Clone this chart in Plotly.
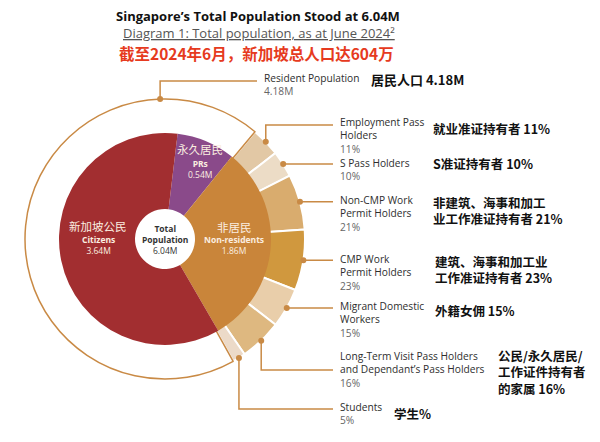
import math
import plotly.graph_objects as go

# ---------------- data ----------------
inner_labels = ["PRs", "Non-residents", "Citizens"]
inner_labels_zh = ["永久居民", "非居民", "新加坡公民"]
inner_values = [0.54, 1.86, 3.64]          # millions
total_population = 6.04
resident_population = 4.18

ring_labels = ["Employment Pass<br>Holders", "S Pass Holders",
               "Non-CMP Work<br>Permit Holders", "CMP Work<br>Permit Holders",
               "Migrant Domestic<br>Workers",
               "Long-Term Visit Pass Holders<br>and Dependant’s Pass Holders",
               "Students"]
ring_labels_zh = ["就业准证持有者 11%", "S准证持有者 10%",
                  "非建筑、海事和加工<br>业工作准证持有者 21%",
                  "建筑、海事和加工业<br>工作准证持有者 23%",
                  "外籍女佣 15%",
                  "公民/永久居民/<br>工作证件持有者<br>的家属 16%",
                  "学生%"]
ring_pct = [11, 10, 21, 23, 15, 16, 5]

# ---------------- style / layout ----------------
W, H = 600, 442
CX, CY = 165, 239
R_IN, R_OUT = 106, 140
HOLE_IN = 30 / R_IN
RING_HOLE = 100 / R_OUT
ROT = 40  # start angle (deg clockwise from 12 o'clock) of the ring
INNER_SHIFT = -1  # small visual rotation offset of inner pie

RED, PURPLE, ORANGE = "#a22e30", "#8a4a8a", "#c9853a"
ring_colors = ["#e2c8a5", "#ecdcc6", "#d9ac6e", "#d0983e", "#e9ceaa", "#deb880", "#ecdac8"]
LINE = "#c98a45"
EN_FONT = "Open Sans"
ZH_FONT = "Noto Sans CJK SC"
LEFT_FIX = -1

def px(x):
    return x / W

def py(y):
    return 1 - y / H

def dom(r):
    return dict(x=[px(CX - r), px(CX + r)], y=[py(CY + r), py(CY - r)])

nonres = inner_values[1]
ring_vals = [p / sum(ring_pct) * nonres for p in ring_pct]
inner_total = sum(inner_values)
inner_rot = ROT + INNER_SHIFT - inner_values[0] / inner_total * 360

fig = go.Figure()

# outer ring: non-resident breakdown + resident outline
fig.add_trace(go.Pie(
    values=ring_vals + [resident_population],
    labels=[l.replace("<br>", " ") for l in ring_labels] + ["Resident Population"],
    sort=False, direction="clockwise", rotation=ROT, hole=RING_HOLE,
    marker=dict(colors=ring_colors + ["rgba(0,0,0,0)"],
                line=dict(color=["white"] * len(ring_vals) + [LINE],
                          width=[2] * len(ring_vals) + [1.5])),
    textinfo="none", hoverinfo="skip", showlegend=False, domain=dom(R_OUT),
))

# inner pie
fig.add_trace(go.Pie(
    values=inner_values, labels=inner_labels,
    sort=False, direction="clockwise", rotation=inner_rot, hole=HOLE_IN,
    marker=dict(colors=[PURPLE, ORANGE, RED], line=dict(width=0)),
    textinfo="none", hoverinfo="skip", showlegend=False, domain=dom(R_IN),
))

annotations = []
shapes = []

def ann(x, y, text, size, color, family=EN_FONT, anchor="center", weight=None):
    if anchor == "left":
        x = x + LEFT_FIX
    font = dict(family=family, size=size, color=color)
    if weight:
        font["weight"] = weight
    annotations.append(dict(x=px(x), y=py(y), xref="paper", yref="paper", text=text,
                            showarrow=False, xanchor=anchor, yanchor="middle", align=anchor,
                            borderpad=0, font=font))

# titles
ann(258, 16, "<b>Singapore’s Total Population Stood at 6.04M</b>", 13, "#111")
ann(259, 33, "<u>Diagram 1: Total population, as at June 2024²</u>", 13, "#555")
ann(256, 52.5, "<b>截至2024年6月，新加坡总人口达604万</b>", 15.5, "#e63a20", ZH_FONT)

# inner labels
inner_pos = [(200, 149, 168.5), (234, 227, 245), (98, 226, 245)]
for lab, zh, v, (x, y_zh, y_en) in zip(inner_labels, inner_labels_zh, inner_values, inner_pos):
    ann(x, y_zh, zh, 11.5, "#fbeee0", ZH_FONT)
    ann(x, y_en, f"<b>{lab}</b><br>{v:.2f}M", 8.5, "#fbeee0")
ann(CX, 240, f"<b>Total</b><br><b>Population</b><br>{total_population:.2f}M", 8.5, "#333")

# callouts for ring segments
LINE_END = 333
TEXT_X = 340
elbow_y = [125, None, None, None, None, 370, 409]
en_y = [135, 170, 213, 272, 319, 369, 413]
zh_y = [128, 163, 210.5, 269, 310, 371.5, 413]
zh_x = [433, 433, 433, 435, 435, 498, 394]

def dot_line(dx, dy, ly, end):
    shapes.append(dict(type="circle", xref="paper", yref="paper",
                       x0=px(dx - 3), x1=px(dx + 3), y0=py(dy + 3), y1=py(dy - 3),
                       fillcolor=LINE, line=dict(width=0), layer="above"))
    if ly is None:
        path = f"M{px(dx)},{py(dy)} L{px(end)},{py(dy)}"
    else:
        path = f"M{px(dx)},{py(dy)} L{px(dx)},{py(ly)} L{px(end)},{py(ly)}"
    shapes.append(dict(type="path", xref="paper", yref="paper", path=path,
                       line=dict(color=LINE, width=1.5), layer="above"))

cum = ROT
for i, v in enumerate(ring_vals):
    span = v / inner_total * 360
    mid = math.radians(cum + span / 2)
    cum += span
    dx = CX + R_OUT * math.sin(mid)
    dy = CY - R_OUT * math.cos(mid)
    dot_line(dx, dy, elbow_y[i], LINE_END)
    ann(TEXT_X, en_y[i], f"<span style='color:#2e2e2e'>{ring_labels[i]}</span><br>"
        f"<span style='color:#666'>{ring_pct[i]}%</span>", 10.2, "#2e2e2e",
        anchor="left", weight=500)
    ann(zh_x[i], zh_y[i], f"<b>{ring_labels_zh[i]}</b>", 12.5, "#111", ZH_FONT, anchor="left")

# resident population callout
ra = math.radians(-2)
rdx, rdy = CX + R_OUT * math.sin(ra), CY - R_OUT * math.cos(ra)
dot_line(rdx, rdy, 81, 257)
ann(264, 84.5, f"<span style='color:#2e2e2e'>Resident Population</span><br>"
    f"<span style='color:#666'>{resident_population:.2f}M</span>", 10.2, "#2e2e2e",
    anchor="left", weight=500)
ann(371, 79, f"<b>居民人口 {resident_population:.2f}M</b>", 13, "#111", ZH_FONT, anchor="left")

fig.update_layout(width=W, height=H, margin=dict(l=0, r=0, t=0, b=0),
                  paper_bgcolor="white", plot_bgcolor="white",
                  annotations=annotations, shapes=shapes, showlegend=False)

fig.write_html("out.html", config={"displayModeBar": False},
               post_script="document.body.style.margin='0';")
